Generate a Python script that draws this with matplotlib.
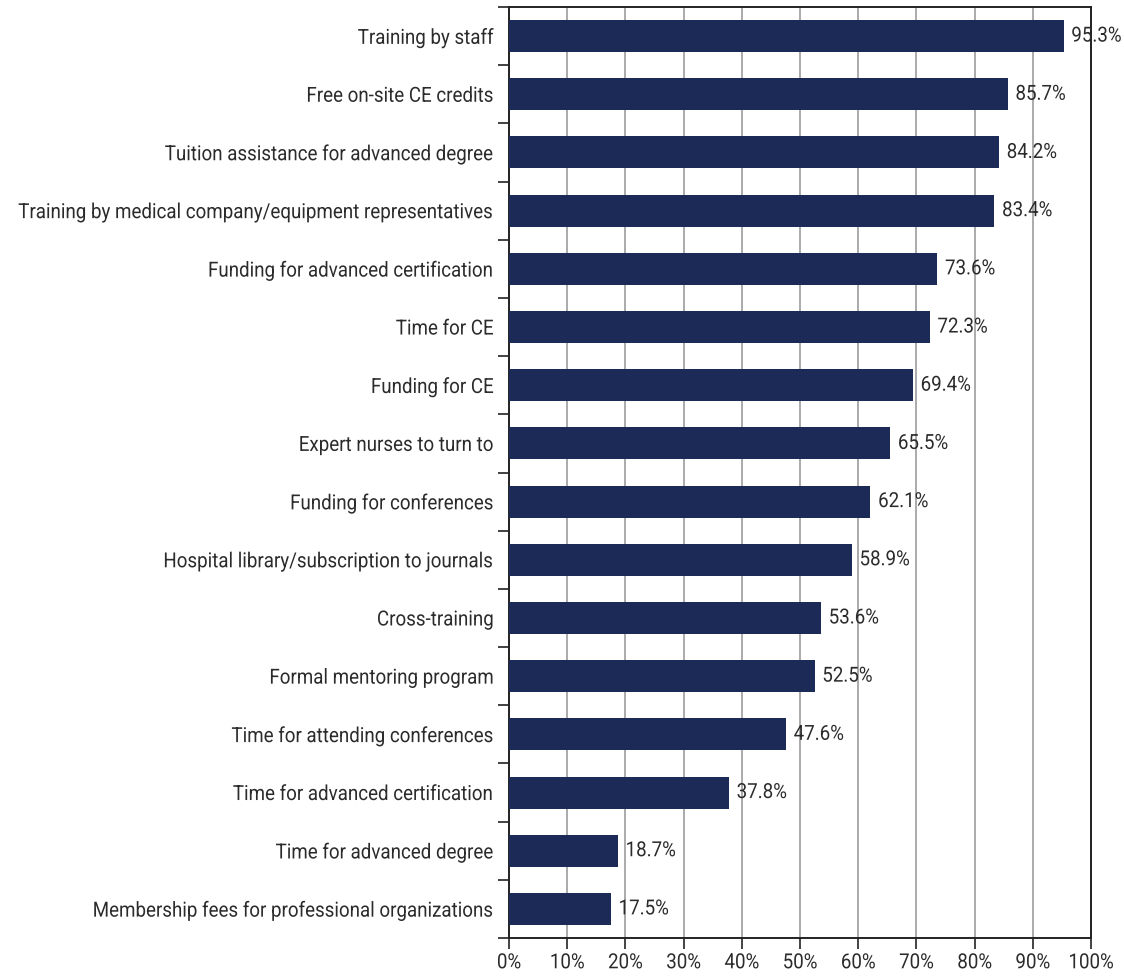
import matplotlib.pyplot as plt
from matplotlib.patheffects import AbstractPathEffect
from matplotlib.transforms import Affine2D

categories = [
    "Training by staff",
    "Free on-site CE credits",
    "Tuition assistance for advanced degree",
    "Training by medical company/equipment representatives",
    "Funding for advanced certification",
    "Time for CE",
    "Funding for CE",
    "Expert nurses to turn to",
    "Funding for conferences",
    "Hospital library/subscription to journals",
    "Cross-training",
    "Formal mentoring program",
    "Time for attending conferences",
    "Time for advanced certification",
    "Time for advanced degree",
    "Membership fees for professional organizations",
]
values = [95.3, 85.7, 84.2, 83.4, 73.6, 72.3, 69.4, 65.5, 62.1, 58.9,
          53.6, 52.5, 47.6, 37.8, 18.7, 17.5]
xticks = list(range(0, 101, 10))


class Squeeze(AbstractPathEffect):
    """Narrow the glyphs horizontally to mimic a condensed face."""

    def __init__(self, sx, anchor="left"):
        super().__init__()
        self.sx = sx
        self.anchor = anchor

    def draw_path(self, renderer, gc, tpath, affine, rgbFace=None):
        ext = tpath.get_extents()
        if self.anchor == "right":
            x0 = ext.x1
        elif self.anchor == "center":
            x0 = (ext.x0 + ext.x1) / 2
        else:
            x0 = ext.x0
        a = Affine2D().translate(-x0, 0).scale(self.sx, 1).translate(x0, 0) + affine
        renderer.draw_path(gc, tpath, a, rgbFace)


plt.rcParams["font.family"] = ["Roboto", "DejaVu Sans"]

bar_color = "#1b2a57"
text_color = "#2b2b2b"
fs = 15
sq = 0.9

fig = plt.figure(figsize=(11.24, 9.77), dpi=100)
ax = fig.add_axes([509 / 1124, 1 - 938 / 977, 582 / 1124, 931 / 977])

n = len(categories)
ypos = list(range(n))
ax.barh(ypos, values, height=0.55, color=bar_color, zorder=3)
for y, v in zip(ypos, values):
    ax.text(v + 1.3, y, f"{v:.1f}%", va="center", ha="left", fontsize=fs,
            color=text_color, zorder=4, path_effects=[Squeeze(sq, "left")])

ax.set_xlim(0, 100)
ax.set_ylim(n - 0.5, -0.5)
ax.set_xticks(xticks)
ax.set_xticklabels([f"{t}%" for t in xticks], fontsize=fs, color=text_color)
ax.grid(axis="x", color="#aaaaaa", linewidth=1.4, zorder=0)

# category labels at centres, tick marks at the boundaries
ax.set_yticks(ypos)
ax.set_yticklabels(categories, fontsize=fs, color=text_color)
ax.tick_params(axis="y", length=0, pad=11)
ax.set_yticks([i - 0.5 for i in range(n + 1)], minor=True)
ax.tick_params(axis="y", which="minor", length=8, width=1.2, color="#222222")
ax.tick_params(axis="x", length=8, width=1.2, color="#222222", pad=3)

for lab in ax.get_yticklabels():
    lab.set_path_effects([Squeeze(sq, "right")])
for lab in ax.get_xticklabels():
    lab.set_path_effects([Squeeze(sq, "center")])

for s in ax.spines.values():
    s.set_color("#222222")
    s.set_linewidth(1.4)

fig.savefig("out.png", dpi=100)
